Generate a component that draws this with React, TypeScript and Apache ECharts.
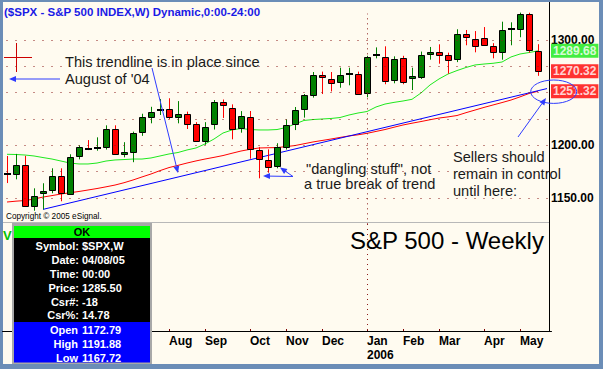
import React, { useEffect, useRef } from 'react';
import * as echarts from 'echarts';

// ---- data (weekly S&P 500) ----
const weeks = [
  '2005-04-01', '2005-04-08', '2005-04-15', '2005-04-22', '2005-04-29',
  '2005-05-06', '2005-05-13', '2005-05-20', '2005-05-27',
  '2005-06-03', '2005-06-10', '2005-06-17', '2005-06-24',
  '2005-07-01', '2005-07-08', '2005-07-15', '2005-07-22', '2005-07-29',
  '2005-08-05', '2005-08-12', '2005-08-19', '2005-08-26',
  '2005-09-02', '2005-09-09', '2005-09-16', '2005-09-23', '2005-09-30',
  '2005-10-07', '2005-10-14', '2005-10-21', '2005-10-28',
  '2005-11-04', '2005-11-11', '2005-11-18', '2005-11-25',
  '2005-12-02', '2005-12-09', '2005-12-16', '2005-12-23', '2005-12-30',
  '2006-01-06', '2006-01-13', '2006-01-20', '2006-01-27',
  '2006-02-03', '2006-02-10', '2006-02-17', '2006-02-24',
  '2006-03-03', '2006-03-10', '2006-03-17', '2006-03-24', '2006-03-31',
  '2006-04-07', '2006-04-14', '2006-04-21', '2006-04-28',
  '2006-05-05', '2006-05-12', '2006-05-19',
];
const opens = [
  1172.8, 1172.79, 1181.2, 1142.6, 1154.5, 1157.3, 1170.6, 1154.1, 1189.6, 1196.5,
  1197.2, 1198.1, 1215.2, 1191.8, 1194.0, 1212.7, 1226.6, 1233.5, 1234.2, 1226.6,
  1229.7, 1220.0, 1204.4, 1220.0, 1241.1, 1235.4, 1216.2, 1227.2, 1195.6, 1186.0,
  1180.4, 1198.7, 1220.0, 1234.2, 1248.1, 1266.8, 1263.3, 1260.1, 1267.7, 1267.7,
  1249.4, 1286.0, 1284.2, 1262.0, 1282.6, 1263.6, 1265.2, 1286.4, 1288.3, 1285.5,
  1281.7, 1306.0, 1300.7, 1301.6, 1294.0, 1288.3, 1310.0, 1310.2, 1324.4, 1289.3,
];
const highs = [
  1189.9, 1191.88, 1190.0, 1159.2, 1164.0, 1178.2, 1178.2, 1191.5, 1200.0, 1205.0,
  1207.6, 1219.0, 1219.0, 1203.0, 1213.0, 1230.0, 1236.6, 1244.0, 1244.7, 1242.0,
  1232.0, 1222.0, 1222.0, 1243.0, 1243.5, 1238.9, 1232.5, 1232.6, 1198.5, 1196.2,
  1202.0, 1224.7, 1236.4, 1248.7, 1269.6, 1270.0, 1269.6, 1273.7, 1273.7, 1270.0,
  1285.0, 1293.0, 1294.0, 1284.5, 1285.0, 1273.7, 1289.0, 1293.4, 1295.9, 1288.0,
  1310.2, 1309.5, 1308.5, 1312.3, 1297.0, 1317.4, 1316.8, 1326.0, 1325.9, 1296.0,
];
const lows = [
  1164.2, 1167.72, 1142.5, 1137.9, 1139.3, 1154.5, 1146.9, 1153.5, 1186.7, 1195.5,
  1194.9, 1196.0, 1191.5, 1188.6, 1184.0, 1209.0, 1220.9, 1228.8, 1225.0, 1220.9,
  1215.5, 1203.5, 1200.6, 1215.0, 1226.0, 1205.7, 1212.0, 1187.3, 1168.7, 1174.0,
  1178.2, 1196.0, 1214.5, 1226.3, 1245.3, 1248.7, 1251.2, 1254.7, 1257.0, 1248.0,
  1245.6, 1282.6, 1258.0, 1258.9, 1258.0, 1252.5, 1263.0, 1281.3, 1277.5, 1268.0,
  1279.0, 1295.0, 1288.3, 1294.5, 1282.6, 1281.3, 1295.0, 1302.6, 1288.0, 1266.0,
];
const closes = [
  1172.8, 1181.2, 1142.7, 1151.6, 1156.4, 1170.6, 1154.5, 1188.6, 1198.1, 1196.5,
  1197.2, 1215.8, 1191.8, 1193.7, 1211.4, 1226.6, 1231.9, 1233.5, 1226.6, 1229.7,
  1220.0, 1204.4, 1217.1, 1241.1, 1238.0, 1215.2, 1227.8, 1196.2, 1187.0, 1179.7,
  1198.1, 1219.0, 1233.5, 1247.5, 1266.5, 1264.6, 1258.9, 1266.5, 1267.7, 1248.7,
  1283.6, 1286.0, 1261.0, 1282.2, 1260.4, 1265.8, 1285.5, 1288.3, 1286.0, 1280.7,
  1305.4, 1302.6, 1294.0, 1295.0, 1288.3, 1309.2, 1310.0, 1324.4, 1290.2, 1270.32,
];
const greenMA = [
  1191.5, 1191.3, 1190.8, 1189.9, 1188.4, 1187.0, 1185.1, 1183.2, 1182.3, 1182.3,
  1183.2, 1185.1, 1186.1, 1186.5, 1187.0, 1187.0, 1188.0, 1189.9, 1191.8, 1193.2,
  1195.6, 1197.5, 1201.3, 1206.0, 1211.7, 1214.6, 1216.0, 1215.0, 1214.6, 1214.6,
  1215.0, 1216.9, 1220.3, 1223.6, 1224.5, 1225.0, 1225.5, 1226.4, 1228.8, 1230.7,
  1232.1, 1236.4, 1239.2, 1240.8, 1242.1, 1243.7, 1249.7, 1257.3, 1263.0, 1267.7,
  1271.0, 1273.9, 1276.3, 1277.2, 1277.9, 1279.1, 1283.9, 1286.7, 1288.1, 1289.68,
];
const redMA = [
  1146.2, 1147.0, 1147.6, 1149.0, 1150.9, 1152.3, 1153.8, 1155.0, 1156.2, 1157.6,
  1159.0, 1160.6, 1162.3, 1164.5, 1167.1, 1170.0, 1172.8, 1176.0, 1178.9, 1181.0,
  1183.2, 1185.2, 1187.0, 1188.6, 1190.3, 1192.5, 1194.6, 1196.2, 1197.5, 1197.7,
  1197.9, 1198.8, 1199.8, 1201.5, 1203.2, 1204.6, 1206.0, 1207.5, 1208.9, 1210.0,
  1211.4, 1213.2, 1215.0, 1217.2, 1219.3, 1221.0, 1222.6, 1224.3, 1225.9, 1227.0,
  1228.3, 1231.0, 1233.5, 1236.0, 1238.3, 1240.6, 1243.0, 1246.0, 1249.2, 1251.32,
];
const trendLine = [[4, 1139.2], [60, 1253.9]];
const gridLevels = [1150, 1175, 1200, 1225, 1250, 1275, 1300];
const yLabelLevels = [1150, 1200, 1300];
const yearBreakWeek = 40;
const firstLabeledWeek = 18;
const monthNames = ['Jan', 'Feb', 'Mar', 'Apr', 'May', 'Jun', 'Jul', 'Aug', 'Sep', 'Oct', 'Nov', 'Dec'];
const dataBoxLabels = ['Symbol:', 'Date:', 'Time:', 'Price:', 'Csr#:', 'Csr%:'];
const dataBoxValues = ['$SPX,W', '04/08/05', '00:00', '1285.50', '-18', '14.78'];
const ohlcLabels = ['Open', 'High', 'Low'];
const ohlcValues = ['1172.79', '1191.88', '1167.72'];

const FONT = 'Arial, "Liberation Sans", Helvetica, sans-serif';
const categories = [...weeks, ''];

const isMonthStart = (i: number) =>
  i > 0 && i < weeks.length && weeks[i].slice(5, 7) !== weeks[i - 1].slice(5, 7);
const isLabeled = (i: number) => i >= firstLabeledWeek && isMonthStart(i);

function txt(text: string, x: number, y: number, opts: any = {}) {
  const align = opts.align || 'left';
  return {
    type: 'text',
    z: opts.z || 110,
    style: {
      text, x, y,
      fill: opts.fill || '#1a1a1a',
      fontSize: opts.size || 14.6,
      fontWeight: opts.weight || 'normal',
      fontFamily: FONT,
      align, textAlign: align,
      verticalAlign: 'middle', textVerticalAlign: 'middle',
    },
  };
}

function arrow(x1: number, y1: number, x2: number, y2: number, color = '#2f3cff') {
  const ang = Math.atan2(y2 - y1, x2 - x1);
  const L = 7, W = 3;
  const bx = x2 - L * Math.cos(ang), by = y2 - L * Math.sin(ang);
  const px = -Math.sin(ang) * W, py = Math.cos(ang) * W;
  return [
    { type: 'line', z: 110, shape: { x1, y1, x2: bx, y2: by }, style: { stroke: color, lineWidth: 1 } },
    { type: 'polygon', z: 110, shape: { points: [[x2, y2], [bx + px, by + py], [bx - px, by - py]] }, style: { fill: color } },
  ];
}

export default function App() {
  const ref = useRef<HTMLDivElement>(null);
  useEffect(() => {
    if (!ref.current) return;
    const chart = echarts.init(ref.current, undefined, { renderer: 'svg' });

    const candleData = weeks.map((_, i) => {
      const o = opens[i], c = closes[i];
      const d = c > o ? 1 : c < o ? -1 : (i > 0 && c >= closes[i - 1] ? 2 : -2);
      return [i, o, c, lows[i], highs[i], d];
    });

    const boxRows: any[] = [];
    dataBoxLabels.forEach((l, k) => {
      const y = 245.7 + k * 13.95;
      boxRows.push(txt(l, 79, y, { fill: '#fff', size: 11, weight: 'bold', align: 'right', z: 121 }));
      boxRows.push(txt(dataBoxValues[k], 82, y, { fill: '#fff', size: 11, weight: 'bold', z: 121 }));
    });
    ohlcLabels.forEach((l, k) => {
      const y = 330 + k * 14;
      boxRows.push(txt(l, 78, y, { fill: '#fff', size: 11, weight: 'bold', align: 'right', z: 121 }));
      boxRows.push(txt(ohlcValues[k], 82, y, { fill: '#fff', size: 11, weight: 'bold', z: 121 }));
    });

    const option: any = {
      animation: false,
      grid: [
        { left: 2.5, width: 549, top: 13.67, height: 210.67 },
        { left: 2.5, width: 549, top: 222, height: 109 },
      ],
      xAxis: [
        { type: 'category', gridIndex: 0, data: categories, boundaryGap: true, show: false },
        {
          type: 'category', gridIndex: 1, data: categories, boundaryGap: true,
          axisLine: { lineStyle: { color: '#000', width: 1 } },
          axisTick: { show: true, inside: true, length: 2, alignWithLabel: true, interval: (i: number) => isLabeled(i), lineStyle: { color: '#800000' } },
          axisLabel: {
            interval: (i: number) => isLabeled(i),
            align: 'left', margin: 3, lineHeight: 14,
            fontFamily: FONT, fontSize: 12, fontWeight: 'bold', color: '#000',
            formatter: (v: string) => {
              if (!v) return '';
              const m = +v.slice(5, 7);
              return m === 1 ? monthNames[0] + '\n' + v.slice(0, 4) : monthNames[m - 1];
            },
          },
        },
      ],
      yAxis: [
        {
          type: 'value', gridIndex: 0, position: 'right', min: 1125, max: 1325, interval: 25,
          axisLine: { show: false }, axisTick: { show: false }, splitLine: { show: false },
          axisLabel: {
            margin: -0.5, fontFamily: FONT, fontSize: 12, fontWeight: 'bold', color: '#000',
            formatter: (v: number) => (yLabelLevels.includes(v) ? v.toFixed(2) : ''),
          },
        },
        { type: 'value', gridIndex: 1, show: false },
      ],
      series: [
        {
          type: 'line', name: 'green', xAxisIndex: 0, yAxisIndex: 0, data: greenMA, showSymbol: false, symbol: 'none',
          lineStyle: { color: '#1ee81e', width: 1 }, silent: true, z: 2,
          markLine: {
            silent: true, symbol: ['none', 'none'], label: { show: false },
            lineStyle: { color: '#8a1a1a', type: [1, 8], dashOffset: 4.5, width: 1 },
            data: [
              ...gridLevels.map((v) => ({ yAxis: v })),
              { xAxis: yearBreakWeek, lineStyle: { type: [1, 4], color: '#8a1a1a' } },
            ],
          },
        },
        {
          type: 'line', name: 'red', xAxisIndex: 0, yAxisIndex: 0, data: redMA, showSymbol: false, symbol: 'none',
          lineStyle: { color: '#ff0000', width: 1 }, silent: true, z: 2,
        },
        {
          type: 'line', name: 'trend', xAxisIndex: 0, yAxisIndex: 0, data: trendLine, showSymbol: false, symbol: 'none',
          lineStyle: { color: '#0000ff', width: 1 }, silent: true, z: 2,
        },
        {
          type: 'custom', name: 'SPX', xAxisIndex: 0, yAxisIndex: 0, data: candleData, z: 3, silent: true,
          encode: { x: 0, y: [1, 2, 3, 4] },
          renderItem: (_p: any, api: any) => {
            const i = api.value(0);
            const o = api.value(1), c = api.value(2), l = api.value(3), h = api.value(4), d = api.value(5);
            const pO = api.coord([i, o]);
            const pC = api.coord([i, c]);
            const pL = api.coord([i, l]);
            const pH = api.coord([i, h]);
            const x = Math.round(pO[0]) + 0.5;
            const wick = d > 0 ? '#008000' : '#ff0000';
            const children: any[] = [
              { type: 'line', shape: { x1: x, y1: pH[1], x2: x, y2: pL[1] }, style: { stroke: wick, lineWidth: 1 } },
            ];
            if (Math.abs(d) === 2) {
              const y = Math.round(pO[1]);
              children.push({ type: 'rect', shape: { x: x - 3.5, y: y - 1, width: 7, height: 2 }, style: { fill: '#000' } });
            } else {
              const top = Math.round(Math.min(pO[1], pC[1])) + 0.5;
              const bot = Math.round(Math.max(pO[1], pC[1])) + 0.5;
              children.push({
                type: 'rect', shape: { x: x - 3, y: top, width: 6, height: Math.max(bot - top, 1) },
                style: { fill: d > 0 ? '#008000' : '#ff0000', stroke: '#000', lineWidth: 1 },
              });
            }
            return { type: 'group', children };
          },
        },
        {
          type: 'scatter', name: 'tags', xAxisIndex: 0, yAxisIndex: 0, symbolSize: 0, silent: true, z: 6,
          data: [
            { value: [59, greenMA[59]], label: { backgroundColor: '#14ea14' } },
            { value: [59, closes[59]], label: { backgroundColor: '#ff0000' } },
            { value: [59, redMA[59]], label: { backgroundColor: '#ff0000' } },
          ],
          label: {
            show: true, position: 'right', distance: 13,
            formatter: (p: any) => p.value[1].toFixed(2),
            color: '#fff', fontFamily: FONT, fontSize: 12, fontWeight: 'bold',
            padding: [1, 2, 1, 2], lineHeight: 12,
          },
        },
      ],
      graphic: {
        elements: [
          // frame lines
          { type: 'line', z: 100, shape: { x1: 549.5, y1: 2, x2: 549.5, y2: 331 }, style: { stroke: '#000', lineWidth: 1 } },
          { type: 'line', z: 100, shape: { x1: 3, y1: 222.5, x2: 549, y2: 222.5 }, style: { stroke: '#b8b8b8', lineWidth: 1 } },
          { type: 'line', z: 100, shape: { x1: 367.5, y1: 224, x2: 367.5, y2: 330 }, style: { stroke: '#8a1a1a', lineWidth: 1, lineDash: [1, 4] } },
          // title
          txt('($SPX - S&P 500 INDEX,W) Dynamic,0:00-24:00', 4, 12, { fill: '#1a1ae6', size: 11.5, weight: 'bold' }),
          // cursor cross
          { type: 'line', z: 100, shape: { x1: 16.5, y1: 43, x2: 16.5, y2: 72 }, style: { stroke: '#cc0000', lineWidth: 1 } },
          { type: 'line', z: 100, shape: { x1: 4, y1: 57.5, x2: 32, y2: 57.5 }, style: { stroke: '#cc0000', lineWidth: 1 } },
          // annotations
          txt('This trendline is in place since', 65, 62),
          txt("August of '04", 65, 78.5),
          ...arrow(60, 79, 9, 79),
          ...arrow(152, 68, 178, 173),
          txt('"dangling stuff", not', 306, 168.5),
          txt('a true break of trend', 304, 183.5),
          ...arrow(293, 176.5, 263, 176),
          ...arrow(293, 176.5, 280, 167.5),
          txt('Sellers should', 453, 156.5),
          txt('remain in control', 453, 173.5),
          txt('until here:', 453, 190.5),
          ...arrow(518, 137, 546, 98),
          { type: 'ellipse', z: 115, shape: { cx: 553.7, cy: 91.7, rx: 23, ry: 11.7 }, style: { fill: 'none', stroke: '#2f3cff', lineWidth: 1 } },
          txt('Copyright \u00A9 2005 eSignal.', 6, 216, { size: 8.2, fill: '#000' }),
          txt('S&P 500 - Weekly', 350, 240, { size: 24, fill: '#000' }),
          txt('V', 3, 235, { size: 13, fill: '#00c000', weight: 'bold' }),
          // data box
          { type: 'rect', z: 120, shape: { x: 12, y: 223, width: 140, height: 141 }, style: { fill: '#a8a8a8' } },
          { type: 'rect', z: 120, shape: { x: 14, y: 226, width: 136, height: 12 }, style: { fill: '#00ff00' } },
          { type: 'rect', z: 120, shape: { x: 14, y: 238, width: 136, height: 84 }, style: { fill: '#000' } },
          { type: 'rect', z: 120, shape: { x: 14, y: 322, width: 136, height: 40.5 }, style: { fill: '#0000ff' } },
          txt('OK', 82, 232.3, { fill: '#000', size: 11, weight: 'bold', align: 'center', z: 121 }),
          ...boxRows,
        ],
      },
    };

    chart.setOption(option);
    return () => chart.dispose();
  }, []);

  return (
    <div
      ref={ref}
      style={{
        position: 'fixed', left: 0, top: 0, width: 603, height: 369,
        background: 'linear-gradient(#fffbf0,#fffbf0) 3px 2px / 596px 362px no-repeat, #6b8db7',
      }}
    />
  );
}
